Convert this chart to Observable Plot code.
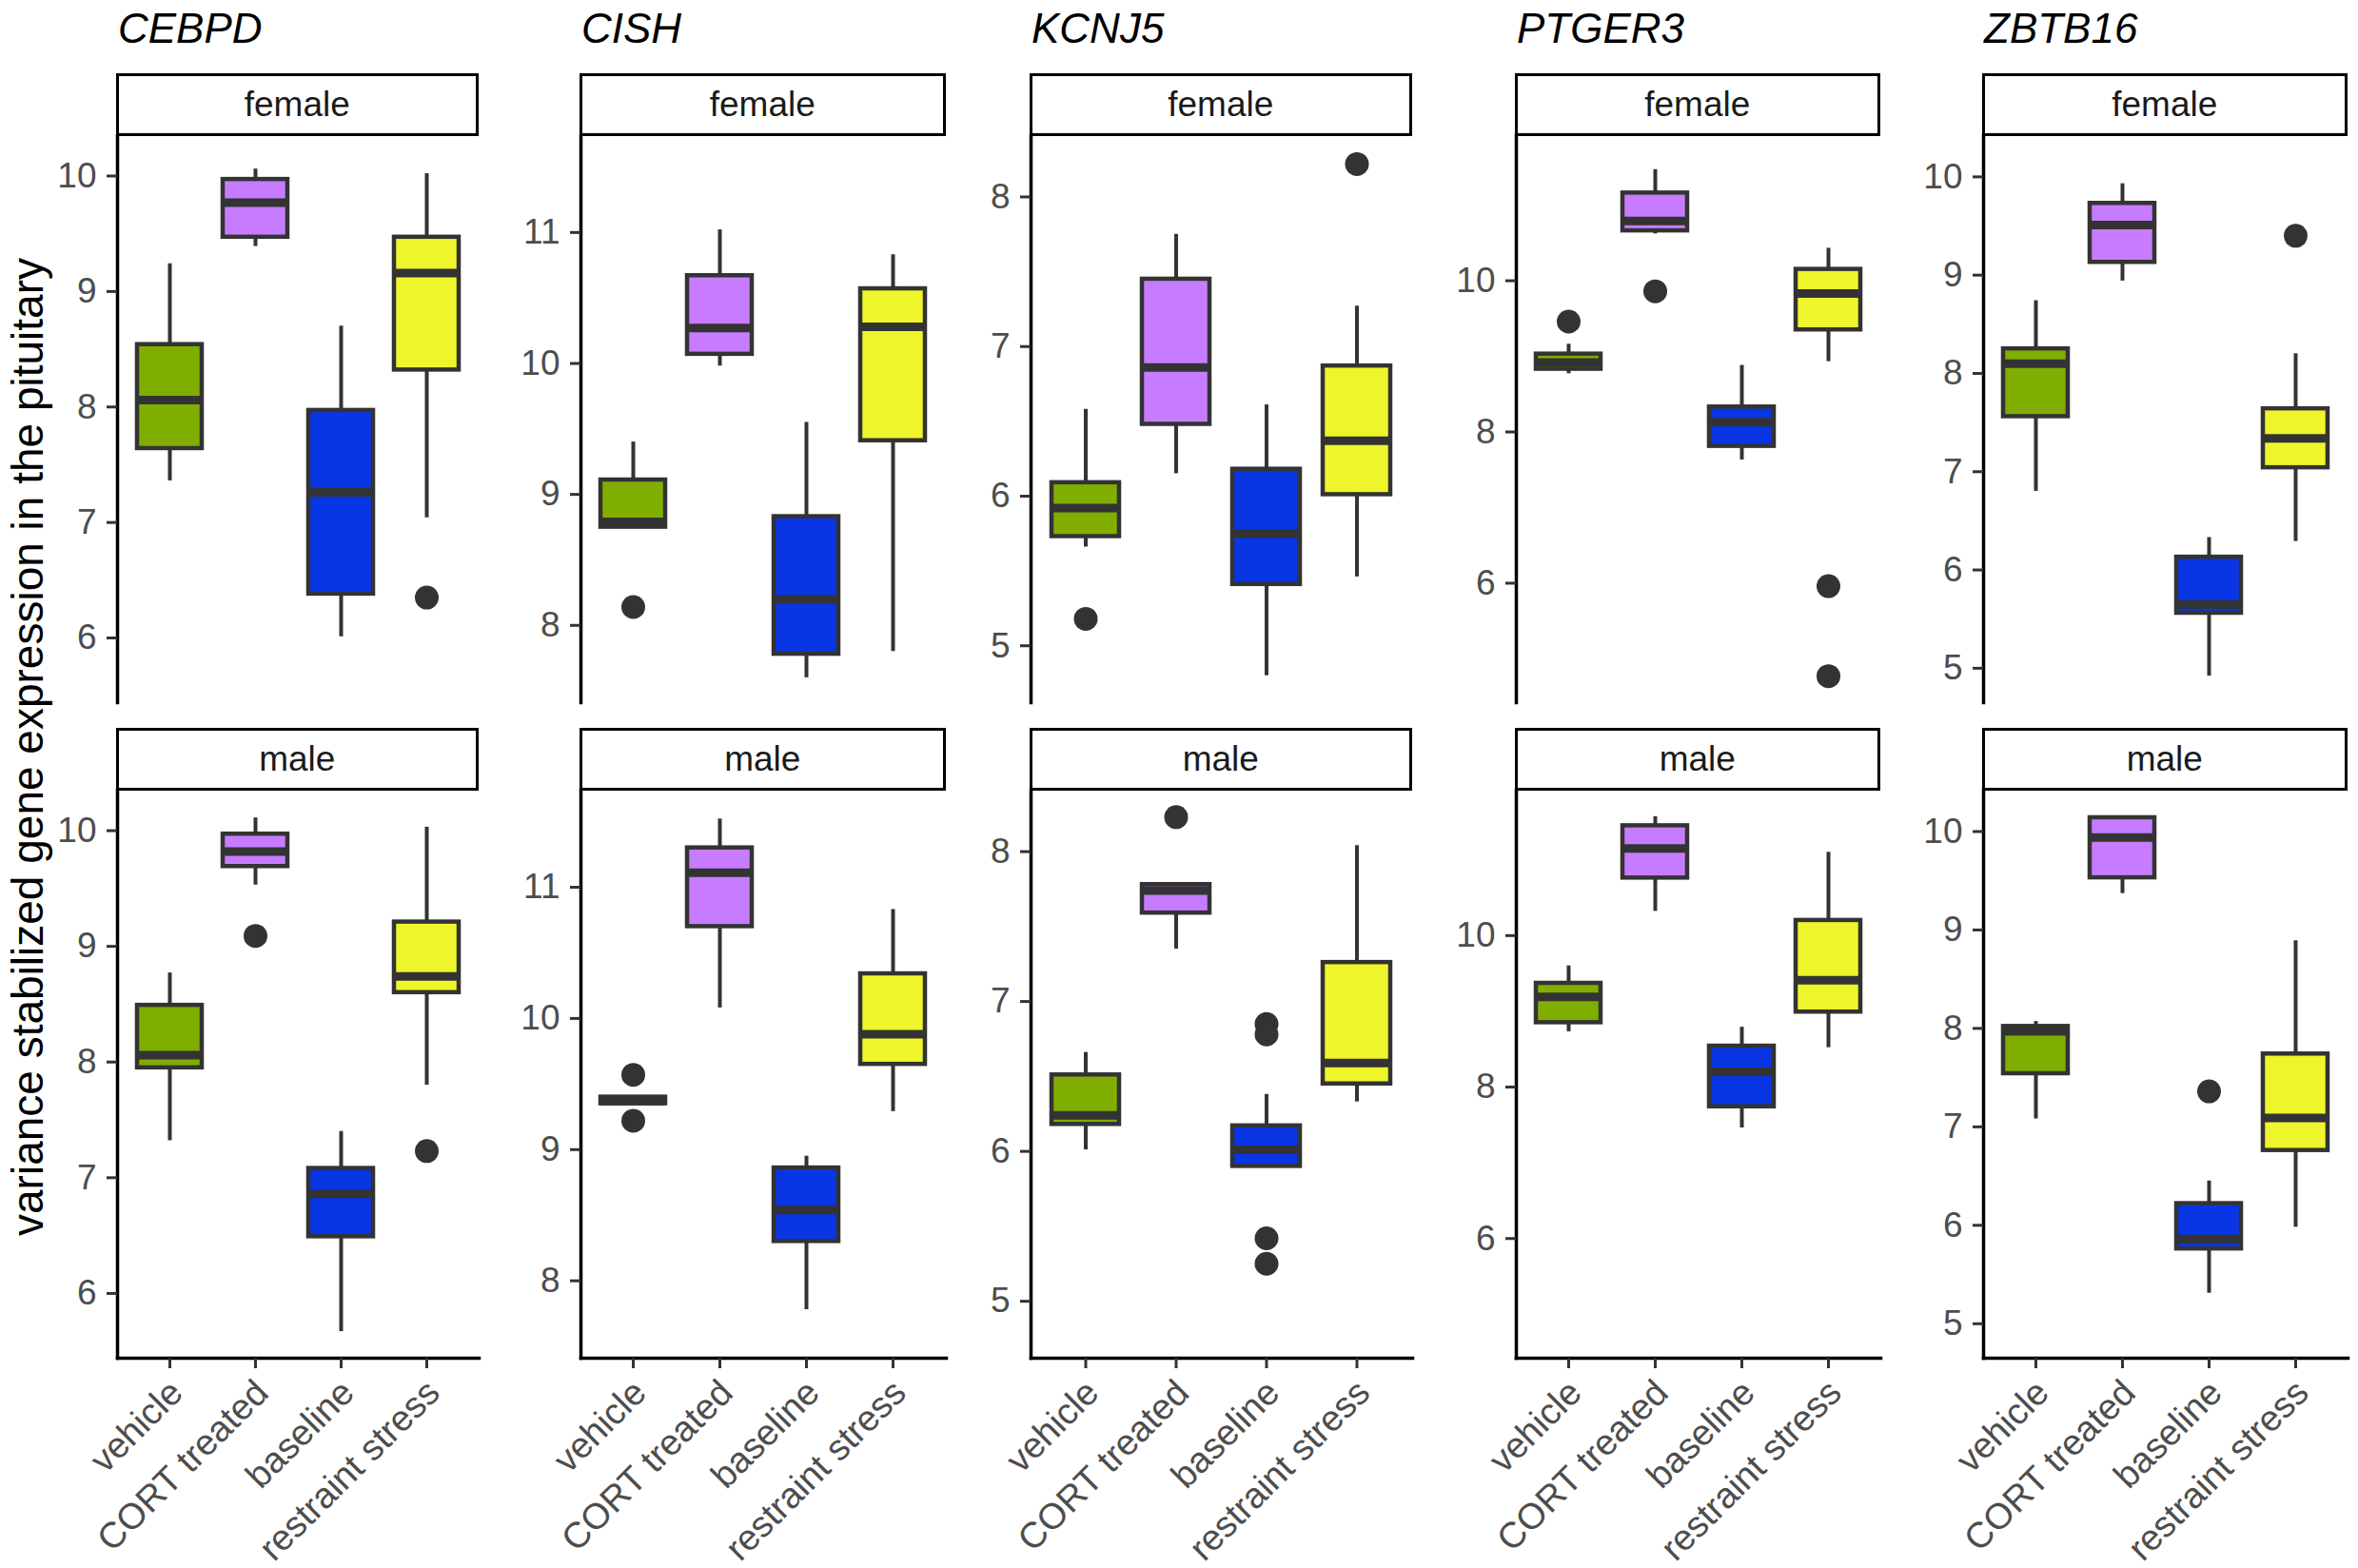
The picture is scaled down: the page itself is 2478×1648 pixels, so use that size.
<!DOCTYPE html>
<html>
<head>
<meta charset="utf-8">
<script src="https://cdn.jsdelivr.net/npm/d3@7"></script>
<script src="https://cdn.jsdelivr.net/npm/@observablehq/plot@0.6"></script>
<style>
  html, body { margin: 0; padding: 0; background: #fff; }
  #root { position: relative; width: 2478px; height: 1648px; overflow: hidden; font-family: "Liberation Sans", Arial, sans-serif; }
  .panel { position: absolute; }
  .panel svg { overflow: visible; }
  .strip { position: absolute; box-sizing: border-box; border: 3px solid #000; background: #fff;
           display: flex; align-items: center; justify-content: center; font-size: 37px; color: #1a1a1a; }
  .gene { position: absolute; font-size: 44px; font-style: italic; line-height: 1; color: #000; white-space: nowrap; }
  .ytitle { position: absolute; font-size: 46px; line-height: 1; color: #000; white-space: nowrap;
            transform: translate(-50%, -50%) rotate(-90deg); }
</style>
</head>
<body>
<div id="root"></div>
<script>
// ---------------- data ----------------
const genes = ["CEBPD", "CISH", "KCNJ5", "PTGER3", "ZBTB16"];
const sexes = ["female", "male"];
const groups = ["vehicle", "CORT treated", "baseline", "restraint stress"];
const groupColors = ["#7FAE00", "#C77CFF", "#0836E4", "#EEF52B"];

const yDomains = [[5.44, 10.35], [7.41, 11.74], [4.62, 8.41], [4.42, 11.92], [4.65, 10.42]];
const yTicks = [[6, 7, 8, 9, 10], [8, 9, 10, 11], [5, 6, 7, 8], [6, 8, 10], [5, 6, 7, 8, 9, 10]];

// box statistics: one row per gene, one value per group (vehicle, CORT treated, baseline, restraint stress)
const femaleLo  = [[7.36, 9.39, 6.01, 7.04], [8.75, 9.98, 7.60, 7.80], [5.66, 6.15, 4.80, 5.46], [8.77, 10.62, 7.63, 8.93], [6.80, 8.94, 4.92, 6.29]];
const femaleQ1  = [[7.64, 9.47, 6.38, 8.32], [8.75, 10.07, 7.78, 9.41], [5.73, 6.48, 5.41, 6.01], [8.83, 10.66, 7.81, 9.35], [7.56, 9.13, 5.56, 7.04]];
const femaleMed = [[8.06, 9.77, 7.26, 9.16], [8.79, 10.27, 8.20, 10.28], [5.92, 6.86, 5.75, 6.37], [8.92, 10.79, 8.13, 9.83], [8.10, 9.51, 5.65, 7.34]];
const femaleQ3  = [[8.54, 9.97, 7.97, 9.47], [9.11, 10.67, 8.83, 10.57], [6.09, 7.45, 6.18, 6.87], [9.03, 11.16, 8.33, 10.15], [8.25, 9.73, 6.13, 7.64]];
const femaleHi  = [[9.24, 10.06, 8.70, 10.02], [9.40, 11.02, 9.55, 10.83], [6.58, 7.75, 6.61, 7.27], [9.16, 11.47, 8.88, 10.43], [8.74, 9.93, 6.33, 8.20]];

const maleLo  = [[7.32, 9.53, 5.67, 7.80], [9.35, 10.08, 7.78, 9.29], [6.01, 7.35, 5.90, 6.33], [8.73, 10.32, 7.46, 8.52], [7.08, 9.37, 5.31, 5.98]];
const maleQ1  = [[7.95, 9.69, 6.49, 8.60], [9.35, 10.70, 8.30, 9.65], [6.18, 7.59, 5.90, 6.45], [8.85, 10.76, 7.74, 8.99], [7.54, 9.53, 5.76, 6.76]];
const maleMed = [[8.06, 9.82, 6.86, 8.74], [9.37, 11.11, 8.54, 9.88], [6.24, 7.74, 6.01, 6.59], [9.19, 11.15, 8.20, 9.41], [7.97, 9.94, 5.86, 7.09]];
const maleQ3  = [[8.49, 9.97, 7.08, 9.21], [9.40, 11.30, 8.86, 10.34], [6.51, 7.78, 6.17, 7.26], [9.37, 11.45, 8.54, 10.20], [8.02, 10.14, 6.22, 7.74]];
const maleHi  = [[8.77, 10.11, 7.40, 10.03], [9.40, 11.52, 8.95, 10.83], [6.66, 7.78, 6.38, 8.04], [9.60, 11.57, 8.79, 11.10], [8.07, 10.14, 6.45, 8.89]];

// outliers: [gene, sex, group, value]
const outliers = [
  ["CEBPD", "female", "restraint stress", 6.35],
  ["CEBPD", "male", "CORT treated", 9.09],
  ["CEBPD", "male", "restraint stress", 7.23],
  ["CISH", "female", "vehicle", 8.14],
  ["CISH", "male", "vehicle", 9.57],
  ["CISH", "male", "vehicle", 9.22],
  ["KCNJ5", "female", "vehicle", 5.18],
  ["KCNJ5", "female", "restraint stress", 8.22],
  ["KCNJ5", "male", "CORT treated", 8.23],
  ["KCNJ5", "male", "baseline", 6.85],
  ["KCNJ5", "male", "baseline", 6.78],
  ["KCNJ5", "male", "baseline", 5.42],
  ["KCNJ5", "male", "baseline", 5.25],
  ["PTGER3", "female", "vehicle", 9.46],
  ["PTGER3", "female", "CORT treated", 9.86],
  ["PTGER3", "female", "restraint stress", 5.96],
  ["PTGER3", "female", "restraint stress", 4.77],
  ["ZBTB16", "female", "restraint stress", 9.40],
  ["ZBTB16", "male", "baseline", 7.36]
];

const yTitle = "variance stabilized gene expression in the pituitary";

// ---------------- layout ----------------
const colX = [123, 610, 1083, 1593, 2084];     // y-axis line position of each column
const colW = [380, 384, 401, 383, 383];        // panel widths
const rowTop = [142, 830];                     // plot-area tops
const rowH = [596, 597];                       // plot-area heights
const stripTop = [77, 765];
const stripH = [66, 66];
const ML = 130, MB = 221;
const dark = "#333333";

const stats = {
  female: [femaleLo, femaleQ1, femaleMed, femaleQ3, femaleHi],
  male: [maleLo, maleQ1, maleMed, maleQ3, maleHi]
};

const root = document.getElementById("root");

genes.forEach((gene, gi) => {
  const t = document.createElement("div");
  t.className = "gene";
  t.textContent = gene;
  t.style.left = (colX[gi] + 1) + "px";
  t.style.top = "8px";
  root.appendChild(t);

  sexes.forEach((sex, si) => {
    const [lo, q1, med, q3, hi] = stats[sex];
    const boxes = groups.map((g, k) => ({
      group: g, lo: lo[gi][k], q1: q1[gi][k], med: med[gi][k], q3: q3[gi][k], hi: hi[gi][k]
    }));
    const outs = outliers.filter(o => o[0] === gene && o[1] === sex).map(o => ({group: o[2], value: o[3]}));
    const isMale = sex === "male";

    const chart = Plot.plot({
      width: ML + colW[gi],
      height: rowH[si] + (isMale ? MB : 0),
      marginLeft: ML, marginRight: 0, marginTop: 0, marginBottom: isMale ? MB : 0,
      style: {background: "transparent", maxWidth: "none", fontFamily: "'Liberation Sans', Arial, sans-serif", overflow: "visible"},
      x: {type: "band", domain: groups, paddingInner: 0.25, paddingOuter: 0.225, axis: null},
      y: {domain: yDomains[gi], axis: null},
      color: {domain: groups, range: groupColors},
      marks: [
        Plot.ruleX(boxes, {x: "group", y1: "lo", y2: "q1", stroke: dark, strokeWidth: 4}),
        Plot.ruleX(boxes, {x: "group", y1: "q3", y2: "hi", stroke: dark, strokeWidth: 4}),
        Plot.barY(boxes, {x: "group", y1: "q1", y2: "q3", fill: "group", stroke: dark, strokeWidth: 4.5}),
        Plot.tickY(boxes, {x: "group", y: "med", stroke: dark, strokeWidth: 9}),
        Plot.dot(outs, {x: "group", y: "value", r: 12.5, fill: dark, stroke: "none"}),
        Plot.frame({anchor: "left", stroke: "#000", strokeWidth: 3.5}),
        Plot.axisY({ticks: yTicks[gi], tickFormat: "d", tickSize: 11, tickPadding: 11, fontSize: 37, stroke: dark, strokeWidth: 3, fill: "#4D4D4D", label: null}),
        isMale ? Plot.frame({anchor: "bottom", stroke: "#000", strokeWidth: 3.5}) : null,
        isMale ? Plot.axisX({tickSize: 11, tickFormat: () => "", stroke: dark, strokeWidth: 3, label: null}) : null,
        isMale ? Plot.axisX({tickRotate: -45, tickSize: 0, tickPadding: 19, dx: 7, dy: 11, fontSize: 38, fill: "#4D4D4D", label: null}) : null
      ]
    });
    const holder = document.createElement("div");
    holder.className = "panel";
    holder.style.left = (colX[gi] - ML) + "px";
    holder.style.top = rowTop[si] + "px";
    holder.appendChild(chart);
    root.appendChild(holder);

    const s = document.createElement("div");
    s.className = "strip";
    s.textContent = sex;
    s.style.left = (colX[gi] - 1.5) + "px";
    s.style.top = stripTop[si] + "px";
    s.style.width = (colW[gi] + 1.5) + "px";
    s.style.height = stripH[si] + "px";
    root.appendChild(s);
  });
});

const yt = document.createElement("div");
yt.className = "ytitle";
yt.textContent = yTitle;
yt.style.left = "29px";
yt.style.top = "785px";
root.appendChild(yt);
</script>
</body>
</html>
